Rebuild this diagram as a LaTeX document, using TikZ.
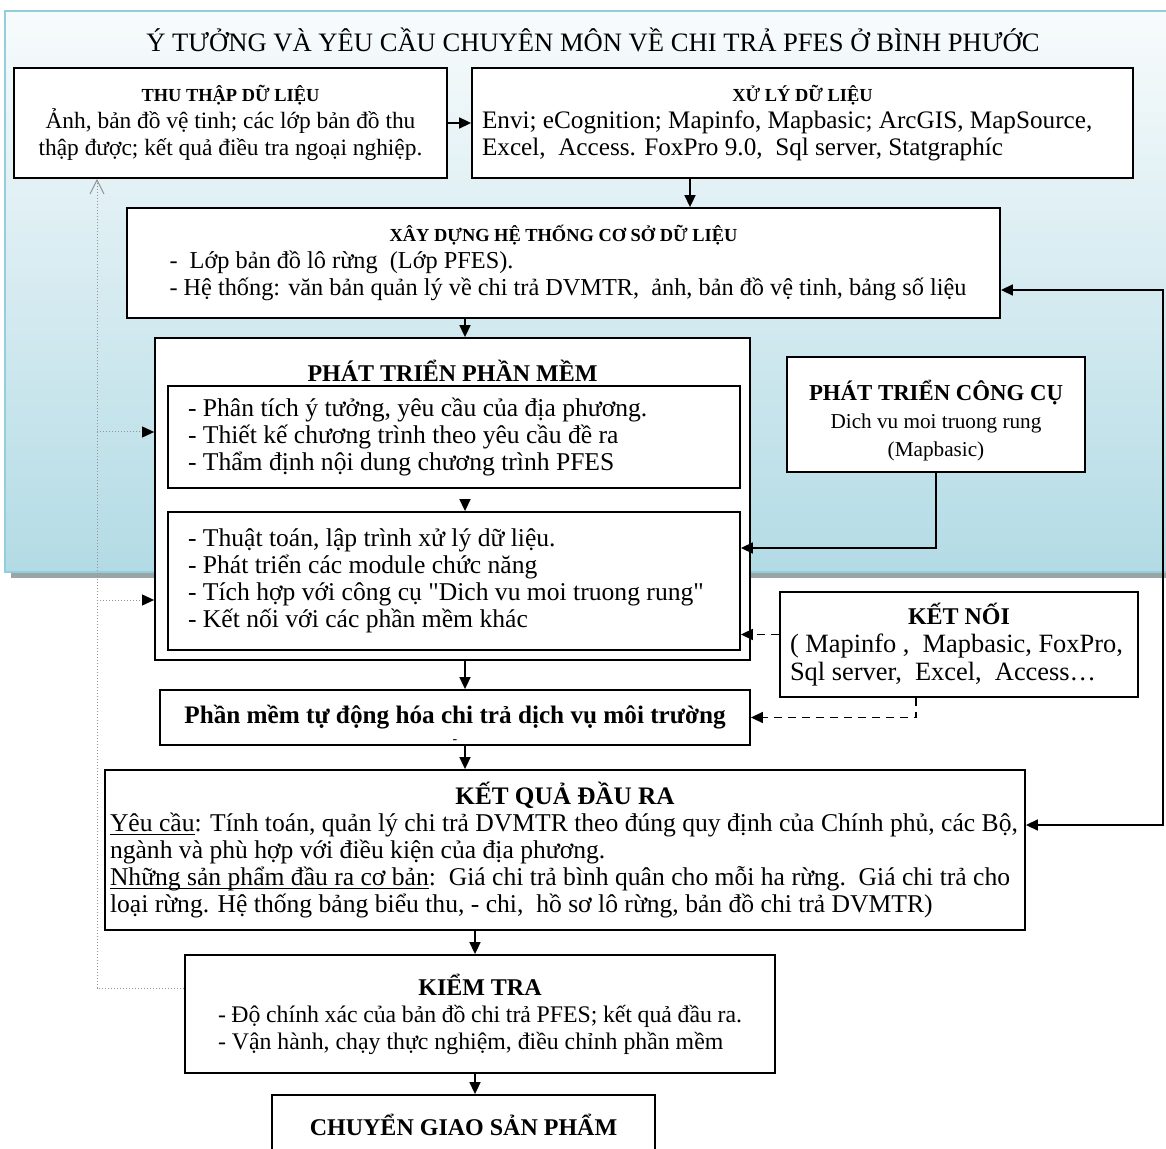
\documentclass[tikz,border=0pt]{standalone}
\usepackage{fontspec}
\setmainfont{Liberation Serif}
\newfontfamily\plainquote{Liberation Serif}[Ligatures=TeXOff]
\usetikzlibrary{positioning,arrows.meta}

\definecolor{bgtop}{HTML}{F8FBFC}
\definecolor{bgbot}{HTML}{B3DBE5}
\definecolor{bgline}{HTML}{92CEDC}
\definecolor{bgshadow}{HTML}{9AA5A8}

\newcommand{\fs}[1]{\fontsize{#1}{13.5}\selectfont}
\newcommand{\nsp}{\spaceskip=0pt\xspaceskip=0pt\relax}
\newcommand{\smalltitle}{\fontsize{9.2}{12}\selectfont\bfseries}
\newcommand{\bigtitle}{\fontsize{12}{14}\selectfont\bfseries}
\newcommand{\ulin}[1]{\underline{\smash{#1}}}
\newcommand{\sq}{{\plainquote"}}

\begin{document}
\begin{tikzpicture}[
x=0.5pt, y=-0.5pt,
box/.style={draw, line width=0.9pt, fill=white, font=\fs{12}, align=center, inner sep=0pt},
leftbox/.style={box, align=left},
arrow/.style={-{Triangle[length=6pt,width=5.5pt]}, line width=0.8pt},
biarrow/.style={{Triangle[length=6pt,width=5.5pt]}-{Triangle[length=6pt,width=5.5pt]}, line width=0.8pt},
dasharrow/.style={arrow, dash pattern=on 4pt off 3pt},
dotline/.style={gray!85, line width=0.5pt, densely dotted},
dotarrow/.style={dotline, -{Triangle[length=6pt,width=5.5pt,color=black]}}
]
\useasboundingbox (0,0) rectangle (1166,1149);
\clip (0,0) rectangle (1166,1149);

% background panel
\fill[bgshadow] (11,566) rectangle (1175,578);
\shade[top color=bgtop, bottom color=bgbot] (5,11) rectangle (1175,572);
\draw[bgline, line width=1.2pt] (5,11) rectangle (1175,572);

\node[font=\fontsize{13.3}{15}\selectfont] (title) at (593,40) {Ý TƯỞNG VÀ YÊU CẦU CHUYÊN MÔN VỀ CHI TRẢ PFES Ở BÌNH PHƯỚC};

% top row
\node[box, minimum width=216.5pt, minimum height=55pt, font=\fs{11.7}] (thu) at (230.5,123)
  {{\smalltitle THU THẬP DỮ LIỆU}\\Ảnh, bản đồ vệ tinh; các lớp bản đồ thu\\thập được; kết quả điều tra ngoại nghiệp.};
\node[leftbox, minimum width=330.5pt, minimum height=55pt, text width=320.5pt, font=\fs{12.6}] (xuly) at (802.5,123)
  {\nsp{\centering\smalltitle XỬ LÝ DỮ LIỆU\par}Envi; eCognition; Mapinfo, Mapbasic; ArcGIS, MapSource,\\Excel,\ \ Access. FoxPro 9.0,\ \ Sql server, Statgraphíc};

\node[leftbox, minimum width=436.5pt, minimum height=55pt, text width=430pt, inner xsep=3pt, font=\fs{12.15}] (xaydung) at (563.5,263)
  {\nsp{\centering\smalltitle XÂY DỰNG HỆ THỐNG CƠ SỞ DỮ LIỆU\par}\hspace*{18pt}-\ \ Lớp bản đồ lô rừng\ \ (Lớp PFES).\\\hspace*{18pt}- Hệ thống: văn bản quản lý về chi trả DVMTR,\ \ ảnh, bản đồ vệ tinh, bảng số liệu};

% software block
\node[box, minimum width=297.5pt, minimum height=161pt] (ptpm) at (452.5,499) {};
\node[below=8pt of ptpm.north, font=\bigtitle] (ptpmtitle) {PHÁT TRIỂN PHẦN MỀM};
\node[leftbox, minimum width=286pt, minimum height=51pt, text width=266pt, font=\fs{12.8}] (inA) at (454,437)
  {\nsp- Phân tích ý tưởng, yêu cầu của địa phương.\\- Thiết kế chương trình theo yêu cầu đề ra\\- Thẩm định nội dung chương trình PFES};
\node[leftbox, minimum width=286pt, minimum height=69pt, text width=266pt, font=\fs{12.8}] (inB) at (454,581)
  {\nsp- Thuật toán, lập trình xử lý dữ liệu.\\- Phát triển các module chức năng\\- Tích hợp với công cụ \sq Dich vu moi truong rung\sq\\- Kết nối với các phần mềm khác};

\node[box, minimum width=149pt, minimum height=57.5pt, font=\fontsize{10.6}{14}\selectfont] (congcu) at (936,414.5)
  {\rule{0pt}{16pt}{\fontsize{11.4}{14}\selectfont\bfseries PHÁT TRIỂN CÔNG CỤ}\\Dich vu moi truong rung\\(Mapbasic)};
\node[leftbox, minimum width=179pt, minimum height=52.5pt, text width=169pt, inner xsep=5pt, font=\fontsize{13.2}{14}\selectfont] (ketnoi) at (959,644.5)
  {\nsp{\centering\bigtitle KẾT NỐI\par}( Mapinfo ,\ \ Mapbasic, FoxPro,\\Sql server,\ \ Excel,\ \ Access…};

\node[box, minimum width=295pt, minimum height=27.5pt, font=\fontsize{12.6}{14}\selectfont\bfseries,
  label={[font=\scriptsize, anchor=south, inner sep=1pt]south:-}] (phanmem) at (455,717.5)
  {Phần mềm tự động hóa chi trả dịch vụ môi trường};

\node[leftbox, minimum width=460pt, minimum height=80pt, text width=455pt, font=\fs{12.8}] (ketqua) at (565,850)
  {\nsp{\centering\fontsize{12.6}{14}\selectfont\bfseries KẾT QUẢ ĐẦU RA\par}\ulin{Yêu cầu}: Tính toán, quản lý chi trả DVMTR theo đúng quy định của Chính phủ, các Bộ,\\ngành và phù hợp với điều kiện của địa phương.\\\ulin{Những sản phẩm đầu ra cơ bản}:\ \ Giá chi trả bình quân cho mỗi ha rừng.\ \ Giá chi trả cho\\loại rừng. Hệ thống bảng biểu thu, - chi,\ \ hồ sơ lô rừng, bản đồ chi trả DVMTR)};

\node[leftbox, minimum width=295pt, minimum height=59pt, text width=262pt, font=\fs{11.9}] (kiemtra) at (480,1014)
  {\nsp{\centering\bigtitle KIỂM TRA\par}- Độ chính xác của bản đồ chi trả PFES; kết quả đầu ra.\\- Vận hành, chạy thực nghiệm, điều chỉnh phần mềm};

\node[box, minimum width=191.5pt, minimum height=30pt, font=\bigtitle] (chuyengiao) at (463.5,1125)
  {CHUYỂN GIAO SẢN PHẨM};

% columns for the vertical arrows
\coordinate (colA) at (465,0);
\coordinate (colB) at (475,0);
\coordinate (colC) at (690,0);
\coordinate (rail) at (1163,0);
\coordinate (fb) at ([xshift=-66.75pt]thu.south);

\draw[arrow] (thu.east) -- (xuly.west);
\draw[arrow] (xuly.south -| colC) -- (xaydung.north -| colC);
\draw[arrow] (xaydung.south -| colA) -- (ptpm.north -| colA);
\draw[arrow, shorten <=5pt] (inA.south -| colA) -- (inB.north -| colA);
\draw[arrow] (ptpm.south -| colA) -- (phanmem.north -| colA);
\draw[arrow] (phanmem.south -| colA) -- (ketqua.north -| colA);
\draw[arrow] (ketqua.south -| colB) -- (kiemtra.north -| colB);
\draw[arrow] (kiemtra.south -| colB) -- (chuyengiao.north -| colB);

\draw[arrow] (congcu.south) |- ([yshift=16.5pt]inB.east);
\draw[dasharrow] ([yshift=5pt]ketnoi.west) -- ([yshift=5pt]ketnoi.west -| inB.east);
\draw[dasharrow] ([xshift=-21.5pt]ketnoi.south) |- (phanmem.east);

\draw[biarrow] ([yshift=-13.5pt]xaydung.east) -- ([yshift=-13.5pt]xaydung.east -| rail)
  -- ([yshift=12.5pt]ketqua.east -| rail) -- ([yshift=12.5pt]ketqua.east);

% feedback from checking
\draw[dotline, -{Straight Barb[length=7pt,width=7pt]}] ([yshift=13pt]kiemtra.west) -| (fb);
\draw[dotarrow] ([yshift=33.5pt]ptpm.west -| fb) -- ([yshift=33.5pt]ptpm.west);
\draw[dotarrow] ([yshift=-50.5pt]ptpm.west -| fb) -- ([yshift=-50.5pt]ptpm.west);
\end{tikzpicture}
\end{document}
